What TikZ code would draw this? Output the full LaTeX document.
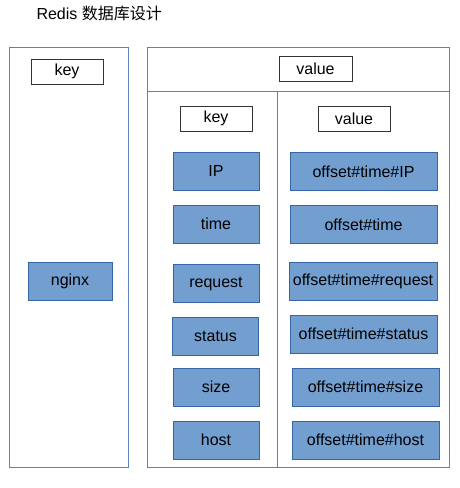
\documentclass[tikz,border=0pt]{standalone}
\usepackage{fontspec}
\setmainfont{Liberation Sans}
\newfontfamily\cjk{Noto Sans CJK SC}
\definecolor{cellfill}{HTML}{729FCF}
\definecolor{celledge}{HTML}{3465A4}
\definecolor{frameedge}{HTML}{5B82BE}
\tikzset{
  labelbox/.style={draw=black!80, line width=0.9pt, fill=white, minimum width=72pt, minimum height=25pt,
    inner sep=0pt, font=\fontsize{16}{19}\selectfont},
  cellbox/.style={draw=celledge, fill=cellfill, minimum width=86pt, minimum height=38pt,
    inner sep=0pt, font=\fontsize{16}{19}\selectfont},
  widecell/.style={cellbox, minimum width=147pt},
  frame/.style={draw=frameedge, line width=0.8pt}
}
\begin{document}
\begin{tikzpicture}[x=1pt,y=-1pt]
\useasboundingbox (0,0) rectangle (460,488);

% frames
\draw[frame] (9,47) rectangle (128,467);
\draw[frame] (147,47) rectangle (449,467);
\draw[frame] (147,91) -- (449,91);
\draw[frame] (277,91) -- (277,467);

\node[anchor=west, font=\fontsize{16}{19}\selectfont] (title) at (33,13) {Redis {\cjk 数据库设计}};

\node[labelbox] (outerkey) at (67,71.5) {key};
\node[labelbox, minimum width=73pt] (outervalue) at (315.5,68.5) {value};
\node[labelbox] (innerkey) at (216,118.5) {key};
\node[labelbox] (innervalue) at (354,118.5) {value};

\node[cellbox, minimum width=84pt] (nginx) at (70,281) {nginx};

\node[cellbox] (ip) at (216,171) {IP};
\node[cellbox] (time) at (216,224) {time};
\node[cellbox] (request) at (216,283.5) {request};
\node[cellbox] (status) at (215.5,336) {status};
\node[cellbox] (size) at (216,387) {size};
\node[cellbox] (host) at (216,440) {host};

\node[widecell] (ipval) at (363.5,171.5) {offset\#time\#IP};
\node[widecell] (timeval) at (363.5,224.5) {offset\#time};
\node[widecell, minimum width=148pt] (requestval) at (363,281) {offset\#time\#request};
\node[widecell] (statusval) at (363.5,334) {offset\#time\#status};
\node[widecell] (sizeval) at (365.5,387) {offset\#time\#size};
\node[widecell] (hostval) at (365.5,440) {offset\#time\#host};
\end{tikzpicture}
\end{document}
